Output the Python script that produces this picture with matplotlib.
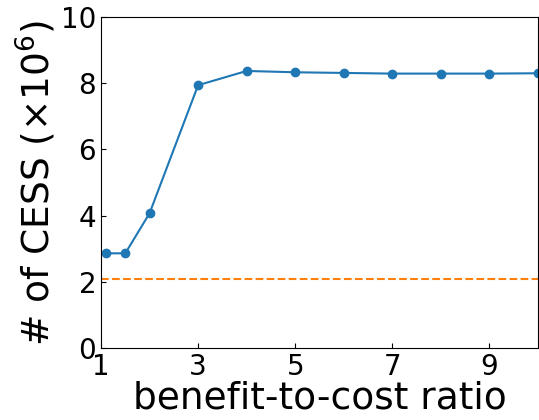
import matplotlib
matplotlib.use("Agg")
import matplotlib.pyplot as plt

ratios = [1.1, 1.5, 2, 3, 4, 5, 6, 7, 8, 9, 10]
cess = [2.86, 2.86, 4.07, 7.94, 8.37, 8.33, 8.31, 8.29, 8.29, 8.29, 8.30]
baseline = 2.07
xticks = [1, 3, 5, 7, 9]
yticks = [0, 2, 4, 6, 8, 10]

fig = plt.figure(figsize=(5.39, 4.2), dpi=100)
ax = fig.add_axes([101/539, 1-348/420, 437/539, 331/420])
ax.plot(ratios, cess, marker='o', color='#1f77b4', markersize=6)
ax.axhline(baseline, color='#ff7f0e', linestyle='--')
ax.set_xlim(1, 10)
ax.set_ylim(0, 10)
ax.set_xticks(xticks)
ax.set_yticks(yticks)
ax.tick_params(direction='in', labelsize=20)
ax.set_xlabel('benefit-to-cost ratio', fontsize=27, labelpad=0)
ax.set_ylabel(r'# of CESS ($\times 10^6$)', fontsize=27, labelpad=2)
fig.savefig('out.png', dpi=100)
